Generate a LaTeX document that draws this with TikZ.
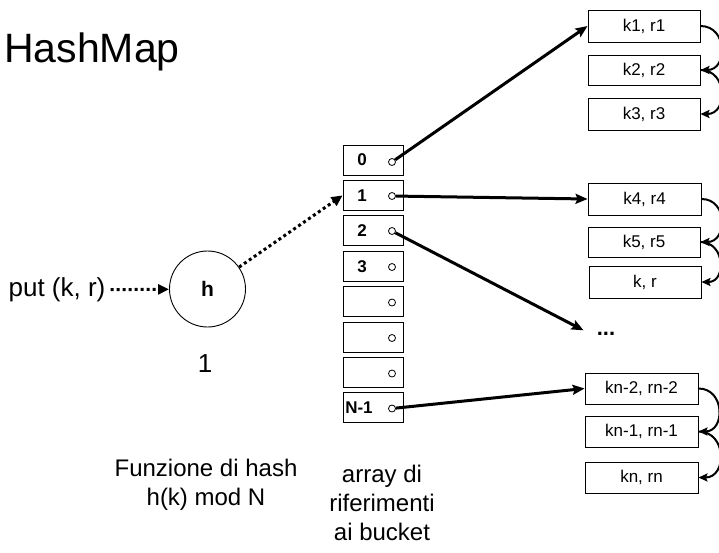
\documentclass[tikz,border=0pt]{standalone}
\usepackage{fontspec}
\setmainfont{Liberation Sans}
\usetikzlibrary{arrows.meta}
\tikzset{
  cell/.style={draw, line width=0.9pt, minimum width=60pt, minimum height=30pt, inner sep=0pt},
  cellnum/.style={font=\fontsize{17}{19}\selectfont\bfseries, inner sep=0pt},
  ptr/.style={circle, draw, line width=0.8pt, fill=white, minimum size=7pt, inner sep=0pt},
  bucket/.style={draw, line width=0.9pt, minimum width=112pt, minimum height=31pt, inner sep=0pt, font=\fontsize{17}{20}\selectfont},
  link/.style={line width=3pt, -{Stealth[length=12pt,width=10pt,inset=2pt]}},
  chain/.style={line width=2pt, -{Stealth[length=9pt,width=8pt,inset=1.5pt]}, out=0, in=0, looseness=1.6},
  dots/.style={line width=3pt, dash pattern=on 3pt off 3pt, -{Triangle[length=11pt,width=10pt]}},
  label/.style={align=center, inner sep=0pt}
}
\begin{document}
\begin{tikzpicture}[x=1pt,y=-1pt]
\useasboundingbox (0,0) rectangle (719,552);

% title
\node[anchor=base west, inner sep=0pt, font=\fontsize{41}{44}\selectfont] (title) at (4,62) {HashMap};

% hash function
\node[font=\fontsize{26}{30}\selectfont, inner sep=5pt] (put) at (57,290) {put (k, r)};
\node[circle, draw, line width=0.9pt, minimum size=76pt, inner sep=0pt, font=\fontsize{21}{24}\selectfont\bfseries] (h) at (207.5,289) {h};
\node[font=\fontsize{26}{30}\selectfont, inner sep=0pt] (one) at (205,364) {1};
\node[label, font=\fontsize{24}{29}\selectfont] (fun) at (206,485) {Funzione di hash\\h(k) mod N};
\node[label, font=\fontsize{24}{29}\selectfont] (arr) at (382,503) {array di\\riferimenti\\ai bucket};

% array cells
\node[cell] (c0) at (373,160) {};
\node[cell] (c1) at (373,195.4) {};
\node[cell] (c2) at (373,230.8) {};
\node[cell] (c3) at (373,266.2) {};
\node[cell] (c4) at (373,301.6) {};
\node[cell] (c5) at (373,337) {};
\node[cell] (c6) at (373,372.4) {};
\node[cell] (c7) at (373,407.8) {};

\node[cellnum] (n0) at (362,160) {0};
\node[cellnum] (n1) at (362,195.4) {1};
\node[cellnum] (n2) at (362,230.8) {2};
\node[cellnum] (n3) at (362,266.2) {3};
\node[cellnum] (n7) at (359,407.8) {N-1};

% buckets
\node[bucket, minimum height=32pt] (k1) at (644,26) {k1, r1};
\node[bucket, minimum height=30pt] (k2) at (644,70) {k2, r2};
\node[bucket, minimum height=32pt] (k3) at (644,114) {k3, r3};
\node[bucket, minimum width=113pt, minimum height=32pt] (k4) at (644.5,199) {k4, r4};
\node[bucket, minimum height=30pt] (k5) at (644,242) {k5, r5};
\node[bucket, minimum height=32pt] (kr) at (645,282) {k, r};
\node[bucket, minimum width=113pt] (kn2) at (641.5,388.5) {kn-2, rn-2};
\node[bucket, minimum width=113pt] (kn1) at (641.5,431.5) {kn-1, rn-1};
\node[bucket, minimum width=113pt] (kn) at (641.5,477.5) {kn, rn};
\node[font=\fontsize{22}{24}\selectfont\bfseries, inner sep=6pt] (dd) at (606,334) {...};

% dotted connectors
\draw[dots] (put) -- (h);
\draw[dots] (h) -- (c1.west);

% pointer circles
\node[ptr] (p0) at (392,162) {};
\node[ptr] (p1) at (392,196) {};
\node[ptr] (p2) at (392,231) {};
\node[ptr] (p3) at (392,267) {};
\node[ptr] (p4) at (392,302.5) {};
\node[ptr] (p5) at (392,338) {};
\node[ptr] (p6) at (392,373.5) {};
\node[ptr] (p7) at (392,408.5) {};

% links
\draw[link] (p0) -- (k1.west);
\draw[link] (p1) -- (k4.west);
\draw[link, shorten >=8pt] (p2) -- (dd.west);
\draw[link] (p7) -- (kn2.west);

% chains
\draw[chain] (k1.east) to (k2.east);
\draw[chain] (k2.east) to (k3.east);
\draw[chain] (k4.east) to (k5.east);
\draw[chain] (k5.east) to (kr.east);
\draw[chain] (kn2.east) to (kn1.east);
\draw[chain] (kn1.east) to (kn.east);
\end{tikzpicture}
\end{document}
